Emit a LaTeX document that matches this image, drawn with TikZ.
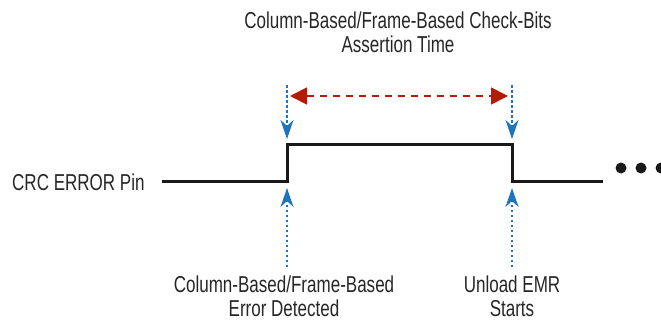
\documentclass[tikz,border=0pt]{standalone}
\usepackage{fontspec}
\setmainfont{Liberation Sans}[FakeStretch=0.74]
\usetikzlibrary{arrows.meta}
\definecolor{mblue}{RGB}{31,116,190}
\definecolor{mred}{RGB}{180,28,10}
\tikzset{
  lbl/.style={font=\fontsize{23}{24}\selectfont, align=center, inner sep=0pt, text=black!85},
  wave/.style={line width=3pt, black!90},
  marker/.style={mblue, line width=1.8pt, dash pattern=on 2.5pt off 2.5pt, -{Stealth[length=19pt,width=13pt,inset=6pt]}},
  span/.style={mred, line width=1.8pt, dash pattern=on 7pt off 6pt, {Triangle[length=17pt,width=17pt]}-{Triangle[length=17pt,width=17pt]}},
  dotc/.style={fill=black!90, draw=none, circle, minimum size=11pt, inner sep=0pt}
}
\begin{document}
\begin{tikzpicture}[x=1pt,y=-1pt]
\useasboundingbox (0,0) rectangle (661,321);
% waveform
\coordinate (w0) at (162,181);
\coordinate (r1) at (287,181);
\coordinate (r2) at (287,144);
\coordinate (f1) at (512,144);
\coordinate (f2) at (512,181);
\coordinate (w1) at (603,181);
\draw[wave, line join=miter] (w0) -- (r1) -- (r2) -- (f1) -- (f2) -- (w1);
% dots
\node[dotc] (d1) at (621,168) {};
\node[dotc] (d2) at (641,168) {};
\node[dotc] (d3) at (661,168) {};
% labels
\node[lbl, anchor=west] (pin) at (12,182) {CRC ERROR Pin};
\node[lbl] (title) at (398,32) {Column-Based/Frame-Based Check-Bits\\Assertion Time};
\node[lbl] (det) at (284,296) {Column-Based/Frame-Based\\Error Detected};
\node[lbl] (emr) at (512,296) {Unload EMR\\Starts};
% markers
\coordinate (t1a) at (287,85);  \coordinate (t1b) at (287,139);
\coordinate (t2a) at (512,85);  \coordinate (t2b) at (512,139);
\coordinate (b1a) at (287,267); \coordinate (b1b) at (287,188);
\coordinate (b2a) at (512,267); \coordinate (b2b) at (512,188);
\draw[marker] (t1a) -- (t1b);
\draw[marker] (t2a) -- (t2b);
\draw[marker] (b1a) -- (b1b);
\draw[marker] (b2a) -- (b2b);
% span arrow
\coordinate (s1) at (290,96);
\coordinate (s2) at (508,96);
\draw[span] (s1) -- (s2);
\end{tikzpicture}
\end{document}
